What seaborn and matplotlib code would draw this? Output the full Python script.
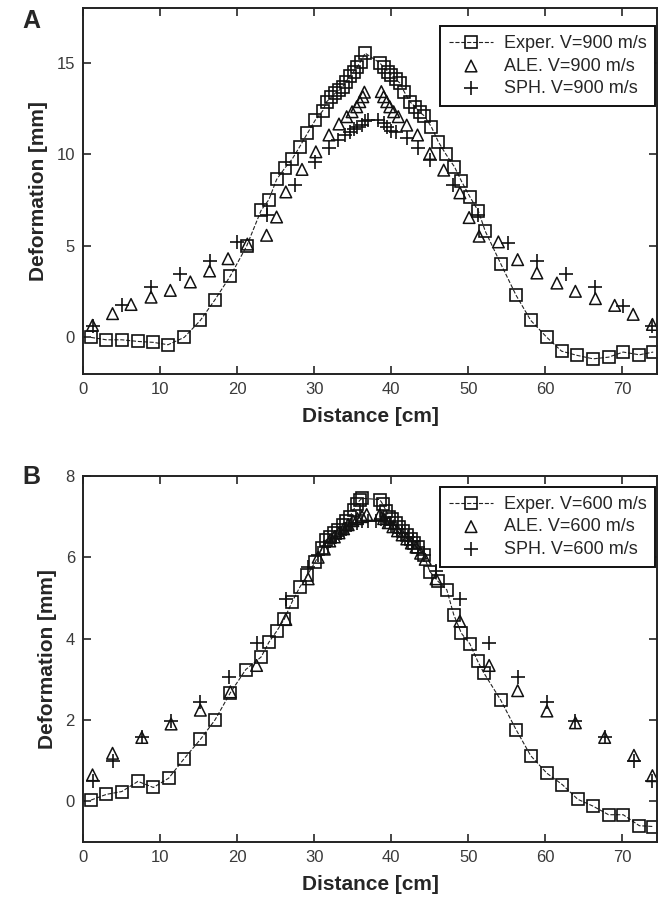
import matplotlib
matplotlib.use("Agg")
import matplotlib.pyplot as plt
import seaborn as sns

# Panel A data (V=900 m/s)
a_exp_x = [1.0, 3.0, 5.0, 7.1, 9.1, 11.0, 13.1, 15.2, 17.1, 19.1, 21.2, 23.1, 24.1, 25.1, 26.2, 27.1, 28.1, 29.1,
           30.1, 31.1, 31.6, 32.2, 32.7, 33.2, 33.7, 34.1, 34.6, 35.1, 35.6, 36.0, 36.6, 38.5, 39.0, 39.6, 40.0,
           40.6, 41.1, 41.7, 42.4, 43.1, 43.7, 44.3, 45.2, 46.1, 47.1, 48.2, 49.1, 50.2, 51.3, 52.2, 54.2, 56.2,
           58.1, 60.2, 62.1, 64.1, 66.2, 68.2, 70.1, 72.2, 74.0]
a_exp_y = [0.0, -0.13, -0.13, -0.22, -0.27, -0.4, 0.0, 0.93, 2.06, 3.36, 4.98, 6.95, 7.53, 8.63, 9.27, 9.73, 10.42,
           11.15, 11.86, 12.39, 12.88, 13.12, 13.34, 13.5, 13.7, 13.97, 14.29, 14.52, 14.8, 15.07, 15.53, 15.0,
           14.76, 14.52, 14.34, 14.1, 13.9, 13.4, 12.88, 12.6, 12.3, 12.1, 11.5, 10.69, 10.0, 9.32, 8.54, 7.68,
           6.9, 5.8, 4.03, 2.3, 0.93, 0.0, -0.75, -0.98, -1.17, -1.08, -0.8, -0.95, -0.8]
a_ale_x = [1.2, 3.8, 6.2, 8.8, 11.3, 13.9, 16.4, 18.8, 21.3, 23.8, 25.1, 26.3, 28.4, 30.2, 31.9, 33.2, 34.2, 34.9,
           35.5, 35.9, 36.3, 36.5, 38.7, 39.0, 39.4, 39.8, 40.3, 40.9, 42.0, 43.4, 45.0, 46.8, 48.9, 50.1, 51.4,
           53.9, 56.4, 58.9, 61.5, 63.9, 66.5, 69.0, 71.4, 73.9]
a_ale_y = [0.66, 1.3, 1.8, 2.2, 2.57, 3.03, 3.63, 4.3, 5.1, 5.58, 6.58, 7.95, 9.18, 10.14, 11.06, 11.66, 12.06,
           12.33, 12.6, 12.88, 13.15, 13.4, 13.43, 13.15, 12.88, 12.6, 12.33, 12.06, 11.6, 11.06, 10.05, 9.14,
           7.9, 6.55, 5.53, 5.22, 4.25, 3.52, 2.97, 2.52, 2.12, 1.75, 1.26, 0.71]
a_sph_x = [1.2, 5.0, 8.75, 12.6, 16.4, 20.0, 23.8, 27.5, 30.1, 31.9, 33.1, 34.0, 34.6, 35.2, 35.6, 36.2, 36.6,
           37.0, 38.3, 39.0, 39.4, 40.0, 40.6, 42.0, 43.4, 45.0, 48.0, 51.3, 55.2, 58.9, 62.7, 66.5, 70.1, 73.9]
a_sph_y = [0.6, 1.75, 2.75, 3.49, 4.2, 5.2, 6.68, 8.32, 9.6, 10.36, 10.8, 11.06, 11.2, 11.4, 11.5, 11.6, 11.8,
           11.9, 11.88, 11.7, 11.5, 11.3, 11.2, 10.87, 10.33, 9.7, 8.32, 6.68, 5.16, 4.2, 3.49, 2.75, 1.7, 0.65]

# Panel B data (V=600 m/s)
b_exp_x = [1.0, 3.0, 5.0, 7.1, 9.1, 11.1, 13.1, 15.2, 17.1, 19.1, 21.1, 23.1, 24.1, 25.1, 26.1, 27.1, 28.1, 29.1,
           30.1, 31.0, 31.5, 32.0, 32.6, 33.1, 33.7, 34.1, 34.6, 35.1, 35.5, 35.9, 36.2, 38.5, 38.9, 39.3, 39.7,
           40.1, 40.6, 41.0, 41.5, 42.0, 42.5, 43.0, 43.5, 44.2, 45.0, 46.0, 47.2, 48.1, 49.1, 50.2, 51.2, 52.0,
           54.2, 56.2, 58.1, 60.2, 62.2, 64.2, 66.2, 68.2, 70.1, 72.2, 74.0]
b_exp_y = [0.03, 0.17, 0.24, 0.49, 0.34, 0.57, 1.05, 1.52, 2.0, 2.67, 3.24, 3.55, 3.91, 4.18, 4.48, 4.9, 5.26,
           5.57, 5.88, 6.22, 6.42, 6.5, 6.59, 6.66, 6.8, 6.88, 7.0, 7.17, 7.3, 7.4, 7.45, 7.42, 7.3, 7.15, 7.0,
           6.95, 6.85, 6.75, 6.65, 6.55, 6.45, 6.35, 6.25, 6.05, 5.65, 5.42, 5.2, 4.59, 4.13, 3.87, 3.45, 3.16,
           2.49, 1.76, 1.12, 0.69, 0.41, 0.05, -0.12, -0.33, -0.33, -0.6, -0.62]
b_ale_x = [1.2, 3.8, 7.6, 11.4, 15.2, 19.1, 22.5, 26.3, 29.2, 30.5, 31.3, 32.0, 32.6, 33.2, 33.8, 34.4, 35.0,
           35.6, 36.2, 36.8, 38.5, 39.0, 39.6, 40.2, 40.8, 41.4, 42.0, 42.6, 43.2, 43.8, 44.4, 45.8, 48.9, 52.7,
           56.4, 60.2, 63.9, 67.7, 71.5, 73.9]
b_ale_y = [0.65, 1.18, 1.57, 1.9, 2.24, 2.69, 3.34, 4.47, 5.47, 6.0, 6.2, 6.4, 6.5, 6.6, 6.7, 6.8, 6.9, 6.95,
           7.0, 7.05, 7.05, 6.95, 6.85, 6.75, 6.65, 6.55, 6.45, 6.35, 6.25, 6.1, 5.95, 5.47, 4.43, 3.34, 2.72,
           2.22, 1.93, 1.57, 1.13, 0.63]
b_sph_x = [1.2, 3.8, 7.6, 11.4, 15.2, 18.9, 22.5, 26.3, 29.2, 30.5, 31.3, 32.0, 32.7, 33.4, 34.1, 34.8, 35.5,
           36.2, 37.0, 38.0, 38.6, 39.2, 40.0, 40.7, 41.4, 42.1, 42.8, 43.5, 44.3, 45.8, 48.9, 52.7, 56.4, 60.2,
           63.9, 67.7, 71.5, 73.9]
b_sph_y = [0.5, 1.0, 1.57, 1.97, 2.43, 3.05, 3.9, 4.97, 5.76, 6.05, 6.25, 6.4, 6.5, 6.6, 6.7, 6.8, 6.85, 6.9,
           6.9, 6.9, 6.95, 6.9, 6.8, 6.7, 6.6, 6.5, 6.4, 6.25, 6.05, 5.67, 4.97, 3.9, 3.05, 2.43, 1.97, 1.57,
           1.0, 0.5]

x_ticks = [0, 10, 20, 30, 40, 50, 60, 70]

sns.set_style("ticks")
plt.rcParams['font.family'] = ['Liberation Sans', 'DejaVu Sans']

fig = plt.figure(figsize=(6.61, 8.98), dpi=100)
ax_a = fig.add_axes([0.126, 0.5835, 0.868, 0.4076])
ax_b = fig.add_axes([0.126, 0.0624, 0.868, 0.4076])


def draw_panel(ax, ex, ey, ax_x, ay, sx, sy, speed, ylim, yticks, leg_top):
    sns.lineplot(x=ex, y=ey, ax=ax, sort=False, estimator=None, color='#222222', linestyle='--',
                 linewidth=0.8, marker='s', markersize=8, markerfacecolor='none',
                 markeredgecolor='#111111', markeredgewidth=1.2, label=f'Exper. V={speed} m/s')
    sns.scatterplot(x=ax_x, y=ay, ax=ax, marker='^', s=70, facecolor='none', edgecolor='#111111',
                    linewidth=1.1, label=f'ALE. V={speed} m/s')
    sns.scatterplot(x=sx, y=sy, ax=ax, marker='+', s=95, color='#111111', linewidth=1.2,
                    label=f'SPH. V={speed} m/s')
    ax.set_xlim(0, 74.5)
    ax.set_ylim(*ylim)
    ax.set_xticks(x_ticks)
    ax.set_yticks(yticks)
    ax.tick_params(direction='in', top=True, right=True, length=6, width=1.2,
                   labelsize=12, labelcolor='#3a3a3a', pad=6)
    for sp in ax.spines.values():
        sp.set_linewidth(1.4)
        sp.set_color('#222222')
    ax.set_xlabel('Distance [cm]', fontsize=15, fontweight='bold', labelpad=7)
    ax.set_ylabel('Deformation [mm]', fontsize=15, fontweight='bold', labelpad=6)
    leg = ax.legend(loc='upper right', bbox_to_anchor=(0.997, leg_top), borderaxespad=0,
                    fontsize=13, frameon=True, fancybox=False, framealpha=1,
                    edgecolor='#111111', handlelength=2.4, handletextpad=0.6,
                    borderpad=0.5, labelspacing=0.3)
    leg.get_frame().set_linewidth(1.4)


draw_panel(ax_a, a_exp_x, a_exp_y, a_ale_x, a_ale_y, a_sph_x, a_sph_y, 900, (-2, 18), [0, 5, 10, 15], 0.95)
draw_panel(ax_b, b_exp_x, b_exp_y, b_ale_x, b_ale_y, b_sph_x, b_sph_y, 600, (-1, 8), [0, 2, 4, 6, 8], 0.97)

fig.text(22 / 661, 1 - 9 / 898, 'A', fontsize=18, fontweight='bold', ha='left', va='top')
fig.text(22 / 661, 1 - 465 / 898, 'B', fontsize=18, fontweight='bold', ha='left', va='top')

fig.savefig('out.png', dpi=100)
